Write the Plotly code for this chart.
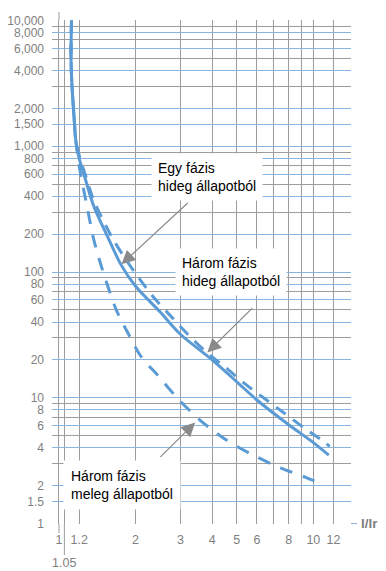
import math
import plotly.graph_objects as go

# ---------------- data ----------------
solid_x = [1.12, 1.115, 1.125, 1.14, 1.165, 1.20, 1.25, 1.37, 1.55, 1.75, 2.0, 2.5, 3.0, 4.0, 5.0, 6.0, 8.0, 10.0, 11.5]
solid_y = [10000, 5000, 3000, 2000, 1100, 800, 610, 333, 192, 115, 77, 48, 32, 20, 13.4, 9.6, 6.1, 4.4, 3.5]

cold3_x = [1.12, 1.115, 1.125, 1.14, 1.165, 1.21, 1.27, 1.37, 1.62, 1.87, 2.31, 2.74, 3.23, 3.8, 4.52, 5.36, 6.43, 7.65, 9.19, 11.03, 11.6]
cold3_y = [10000, 5000, 3000, 2000, 1100, 800, 590, 371, 187, 118, 66, 45, 31.5, 23, 17.4, 13, 9.85, 7.6, 5.76, 4.46, 4.1]

hot3_x = [1.12, 1.115, 1.125, 1.14, 1.165, 1.2, 1.3, 1.37, 1.48, 1.68, 1.88, 2.1, 2.45, 2.97, 3.63, 4.52, 5.73, 7.42, 9.38, 10.4]
hot3_y = [10000, 5000, 3000, 2000, 1100, 700, 304, 181, 105, 50, 31.8, 21.3, 15.0, 9.56, 6.5, 4.65, 3.54, 2.77, 2.32, 2.12]

x_tickvals = [1, 1.05, 1.2, 2, 3, 4, 5, 6, 8, 10, 12]
x_ticktext = ["1", "", "1.2", "2", "3", "4", "5", "6", "8", "10", "12"]
x_minor = [7, 9, 14]

y_tickvals = [1, 1.5, 2, 4, 6, 8, 10, 20, 40, 60, 80, 100, 200, 400, 600, 800,
              1000, 1500, 2000, 4000, 6000, 8000, 10000]
y_ticktext = ["1", "1.5", "2", "4", "6", "8", "10", "20", "40", "60", "80", "100", "200",
              "400", "600", "800", "1,000", "1,500", "2,000", "4,000", "6,000", "8,000", "10,000"]
y_minor = [3, 5, 7, 9, 30, 50, 70, 90, 300, 500, 700, 900, 3000, 5000, 7000, 9000]

# annotation arrows: (tip_x, tip_y, tail_x, tail_y)
arrow_egy = (1.76, 115, 3.25, 363)
arrow_cold3 = (3.83, 22.9, 5.83, 53.1)
arrow_hot3 = (3.43, 6.35, 2.47, 3.3)

# ---------------- style ----------------
CURVE = "#5b9bd5"
GRID_GRAY = "#9c9c9c"
GRID_BLUE = "#86b5e2"
LABEL = "#7f7f7f"
FONT = "Liberation Sans, Arial, sans-serif"

fig = go.Figure()
fig.add_trace(go.Scatter(x=solid_x, y=solid_y, mode="lines",
                         line=dict(color=CURVE, width=3, shape="spline", smoothing=0.8)))
fig.add_trace(go.Scatter(x=cold3_x, y=cold3_y, mode="lines",
                         line=dict(color=CURVE, width=3, dash="12px,9px", shape="spline", smoothing=0.8)))
fig.add_trace(go.Scatter(x=hot3_x, y=hot3_y, mode="lines",
                         line=dict(color=CURVE, width=3, dash="13px,11px", shape="spline", smoothing=0.8)))

# page has an 8px body margin: figure origin sits at page (8, 8)
OFF = 8
W, H = 386, 571
ML, MT = 52 - OFF, 20 - OFF
MR = W - (351 - OFF)
MB = H - (524 - OFF)
PW, PH = W - ML - MR, H - MT - MB

fig.update_layout(
    width=W, height=H,
    margin=dict(l=ML, r=MR, t=MT, b=MB, pad=0, autoexpand=False),
    paper_bgcolor="white", plot_bgcolor="white",
    showlegend=False, hovermode=False,
    font=dict(family=FONT),
)

fig.update_xaxes(
    type="log", range=[-0.0275, 1.148], automargin=False,
    tickvals=x_tickvals, ticktext=x_ticktext,
    showgrid=True, gridcolor=GRID_GRAY, gridwidth=1,
    minor=dict(tickvals=x_minor, showgrid=True, gridcolor=GRID_GRAY, gridwidth=1, ticks=""),
    ticks="", showline=False, zeroline=False,
    tickfont=dict(color=LABEL, size=12.5, family=FONT),
    ticklabelstandoff=6,
)
fig.update_yaxes(
    type="log", range=[-0.004, 4.004], automargin=False,
    tickvals=y_tickvals, ticktext=y_ticktext,
    showgrid=True, gridcolor=GRID_BLUE, gridwidth=1,
    minor=dict(tickvals=y_minor, showgrid=True, gridcolor=GRID_GRAY, gridwidth=1, ticks=""),
    ticks="", showline=False, zeroline=False,
    tickfont=dict(color=LABEL, size=12, family=FONT),
    ticklabelstandoff=7,
)

shapes = [
    # x=1 line extensions (above and below the grid)
    dict(type="line", xref="x", yref="paper", x0=x_tickvals[0], x1=x_tickvals[0],
         y0=-9 / PH, y1=0, line=dict(color=GRID_GRAY, width=1)),
    dict(type="line", xref="x", yref="paper", x0=x_tickvals[0], x1=x_tickvals[0],
         y0=1, y1=1 + 8 / PH, line=dict(color=GRID_GRAY, width=1)),
    # long tick for 1.05
    dict(type="line", xref="x", yref="paper", x0=x_tickvals[1], x1=x_tickvals[1],
         y0=-31 / PH, y1=0, line=dict(color=GRID_GRAY, width=1)),
    # x axis line extension toward "I/Ir"
    dict(type="line", xref="paper", yref="y", x0=1, x1=1 + 6 / PW,
         y0=y_tickvals[0], y1=y_tickvals[0], line=dict(color=GRID_BLUE, width=1)),
]
fig.update_layout(shapes=shapes)


def px2paper(px, py):
    # page pixel -> paper coordinates
    return (px - OFF - ML) / PW, 1 - (py - OFF - MT) / PH


ann = []
boxes = [
    ("Egy fázis<br>hideg állapotból", 207, 177, 6),
    ("Három fázis<br>hideg állapotból", 231, 272, 6),
    ("Három fázis<br>meleg állapotból", 122, 485, 7),
]
for text, cx, cy, pad in boxes:
    xp, yp = px2paper(cx, cy)
    ann.append(dict(
        x=xp, y=yp, xref="paper", yref="paper", xanchor="center", yanchor="middle",
        text=text, showarrow=False, align="left", bgcolor="white", borderpad=pad,
        font=dict(color="black", size=14, family=FONT),
    ))

ARROW = "#8a8a8a"
for tip_x, tip_y, tail_x, tail_y in (arrow_egy, arrow_cold3, arrow_hot3):
    ann.append(dict(
        x=math.log10(tip_x), y=math.log10(tip_y), xref="x", yref="y",
        ax=math.log10(tail_x), ay=math.log10(tail_y), axref="x", ayref="y",
        text="", showarrow=True, arrowhead=2, arrowsize=2.3, arrowwidth=1.2,
        arrowcolor=ARROW,
    ))

# 1.05 label (placed lower than the others)
ann.append(dict(
    x=math.log10(x_tickvals[1]), y=px2paper(0, 563)[1], xref="x", yref="paper",
    xanchor="center", yanchor="middle", text="1.05", showarrow=False,
    font=dict(color=LABEL, size=12.5, family=FONT),
))
# axis title
ann.append(dict(
    x=px2paper(369, 0)[0], y=px2paper(0, 523)[1], xref="paper", yref="paper",
    xanchor="center", yanchor="middle", text="<b>I/Ir</b>", showarrow=False,
    font=dict(color=LABEL, size=13.5, family=FONT),
))
fig.update_layout(annotations=ann)

fig.write_html("out.html")
